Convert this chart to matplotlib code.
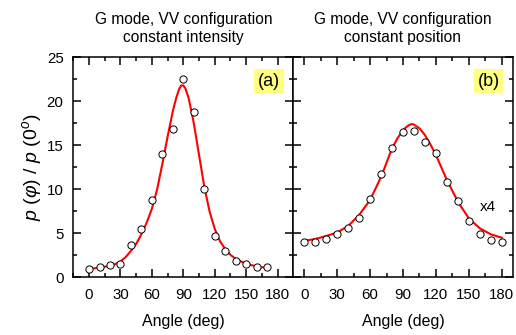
import matplotlib
matplotlib.use("Agg")
import matplotlib.pyplot as plt
from matplotlib.ticker import MultipleLocator

plt.rcParams['font.family'] = ['Liberation Sans', 'DejaVu Sans']
plt.rcParams['mathtext.fontset'] = 'custom'
plt.rcParams['mathtext.rm'] = 'Liberation Sans'
plt.rcParams['mathtext.it'] = 'Liberation Sans:italic'

# ---- data ----
angles_a = [0, 10, 20, 30, 40, 50, 60, 70, 80, 90, 100, 110, 120, 130, 140, 150, 160, 170]
ratio_a = [0.98, 1.17, 1.4, 1.55, 3.67, 5.53, 8.8, 14.05, 16.9, 22.5, 18.8, 10.05,
           4.73, 2.95, 1.89, 1.5, 1.2, 1.12]
fit_a_x = [0, 5, 10, 15, 20, 25, 30, 35, 40, 45, 50, 55, 60, 65, 70, 75, 80, 83, 86,
           88, 90, 92, 95, 98, 100, 105, 110, 115, 120, 125, 130, 135, 140, 145, 150,
           155, 160, 165, 170]
fit_a_y = [0.95, 1.02, 1.1, 1.2, 1.32, 1.5, 1.8, 2.3, 3.0, 3.8, 4.9, 6.2, 7.8, 10.0,
           12.9, 16.0, 18.9, 20.3, 21.4, 21.8, 21.8, 21.45, 20.4, 18.7, 17.5, 13.9,
           10.3, 7.5, 5.5, 4.1, 3.2, 2.55, 2.1, 1.8, 1.55, 1.38, 1.25, 1.15, 1.08]

angles_b = [0, 10, 20, 30, 40, 50, 60, 70, 80, 90, 100, 110, 120, 130, 140, 150, 160, 170, 180]
ratio_b = [4.05, 4.01, 4.3, 4.96, 5.57, 6.78, 8.94, 11.78, 14.73, 16.55, 16.59, 15.34,
           14.09, 10.8, 8.67, 6.43, 4.96, 4.28, 4.01]
fit_b_x = [0, 10, 20, 30, 40, 50, 60, 70, 80, 85, 90, 95, 98, 100, 105, 110, 115, 120,
           130, 140, 150, 160, 170, 180]
fit_b_y = [4.15, 4.35, 4.69, 5.1, 5.83, 7.08, 8.78, 11.4, 14.65, 15.8, 16.74, 17.27,
           17.42, 17.35, 16.93, 16.17, 15.1, 13.9, 11.06, 8.6, 6.7, 5.57, 4.89, 4.5]

titles = ["G mode, VV configuration\nconstant intensity",
          "G mode, VV configuration\nconstant position"]
panel_labels = ["(a)", "(b)"]
xticks = [0, 30, 60, 90, 120, 150, 180]

# ---- figure ----
fig = plt.figure(figsize=(5.16, 3.35), dpi=100)
axa = fig.add_axes([0.1421, 0.1722, 0.4264, 0.6567])
axb = fig.add_axes([0.5684, 0.1722, 0.4252, 0.6567], sharey=axa)

for ax, xl, ang, rat, fx, fy, title, lab in [
        (axa, (-15, 195), angles_a, ratio_a, fit_a_x, fit_a_y, titles[0], panel_labels[0]),
        (axb, (-10, 190), angles_b, ratio_b, fit_b_x, fit_b_y, titles[1], panel_labels[1])]:
    ax.plot(fx, fy, color='#ff0000', lw=1.5, zorder=2)
    ax.plot(ang, rat, 'o', ms=5.2, mfc='white', mec='black', mew=0.7, zorder=3)
    ax.set_xlim(*xl)
    ax.set_ylim(0, 25)
    ax.set_xticks(xticks)
    ax.xaxis.set_minor_locator(MultipleLocator(15))
    ax.yaxis.set_major_locator(MultipleLocator(5))
    ax.yaxis.set_minor_locator(MultipleLocator(2.5))
    ax.tick_params(which='both', direction='in', top=True, right=True, width=1.1,
                   labelsize=10.8)
    ax.tick_params(axis='x', which='both', pad=8)
    ax.tick_params(axis='y', which='both', pad=7)
    ax.tick_params(which='major', length=6)
    ax.tick_params(which='minor', length=3)
    for s in ax.spines.values():
        s.set_linewidth(1.1)
    ax.set_xlabel("Angle (deg)", fontsize=11.5, labelpad=8)
    ax.set_title(title, fontsize=11.2, pad=11, linespacing=1.28)
    ax.text(0.94, 0.93, lab, transform=ax.transAxes, ha='right', va='top', fontsize=13,
            bbox=dict(boxstyle='square,pad=0.2', fc='#ffff80', ec='none'))

axb.tick_params(axis='y', which='both', labelleft=False)
axb.text(167.6, 8.0, "x4", fontsize=11, ha='center', va='center')

axa.set_ylabel(r'$p\ (\varphi)\ /\ p\ (0^{o})$', fontsize=14, labelpad=2)

fig.savefig("out.png", dpi=100)
